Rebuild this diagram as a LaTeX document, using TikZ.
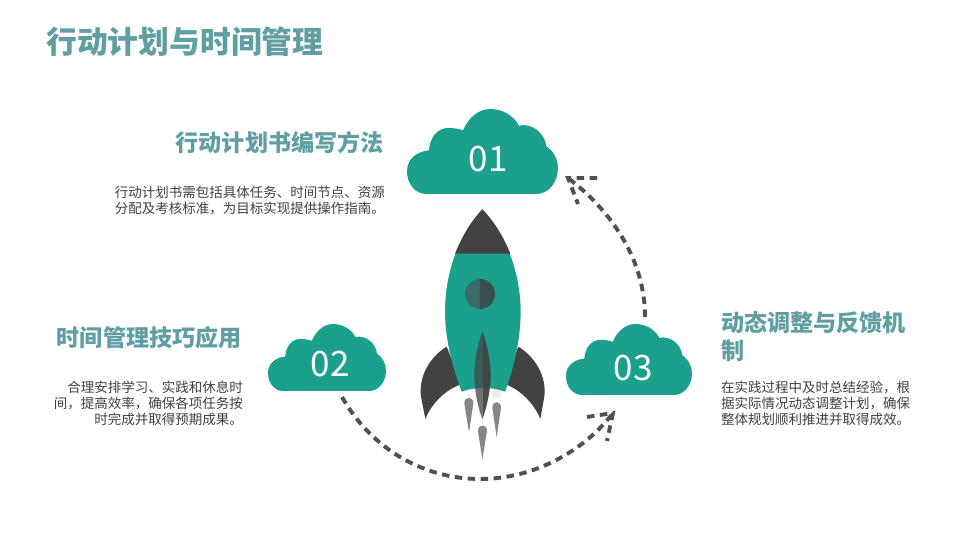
\documentclass[tikz,border=0pt]{standalone}
\usepackage{fontspec}
\setmainfont{Noto Sans CJK SC}
\newcommand{\fc}{\char"FF0C\relax}
\definecolor{teal1}{HTML}{1BA08E}
\definecolor{head1}{HTML}{5F9EA3}
\definecolor{body1}{HTML}{404040}
\definecolor{dark1}{HTML}{424242}
\definecolor{dash1}{HTML}{505050}
\definecolor{winl}{HTML}{3A6B66}
\definecolor{winr}{HTML}{35504F}
\tikzset{
 x=1pt,y=-1pt,
 titletext/.style={font=\fontsize{30.8}{36}\selectfont\bfseries,text=head1,inner sep=0pt},
 headtext/.style={font=\fontsize{23.1}{28}\selectfont\bfseries,text=head1,inner sep=0pt},
 bodytext/.style={font=\fontsize{13.5}{16}\selectfont,text=body1,inner sep=0pt},
 numtext/.style={font=\fontsize{35}{40}\selectfont,text=white,inner sep=0pt},
 arcline/.style={draw=dash1,line width=3.9pt,dash pattern=on 7.5pt off 5.5pt},
 exhaust/.style={fill=gray!95},
}
\newcommand{\cloudshape}[4]{%
 \fill[teal1,shift={(#1,#2)},x=#3pt,y=-#4pt]
 (58,255) -- (388,255) .. controls (425,255) and (453,220) .. (453,177)
 .. controls (453,150) and (438,125) .. (418,112)
 .. controls (415,75) and (375,40) .. (336,50)
 .. controls (320,20) and (287,0) .. (250,0)
 .. controls (215,0) and (185,25) .. (168,64)
 .. controls (155,59) and (140,57) .. (123,57)
 .. controls (90,57) and (68,88) .. (66,124)
 .. controls (28,128) and (0,150) .. (0,187)
 .. controls (0,225) and (25,255) .. (58,255) -- cycle;}
\begin{document}
\begin{tikzpicture}
\useasboundingbox (0,0) rectangle (960,540);
\fill[white] (0,0) rectangle (960,540);
% clouds
\cloudshape{407}{109}{0.3333}{0.3333}
\cloudshape{268}{324}{0.2605}{0.2627}
\cloudshape{566}{324}{0.2781}{0.2784}
\node[numtext] (n1) at (488,159) {01};
\node[numtext] (n2) at (330,364) {02};
\node[numtext] (n3) at (633,368) {03};
% rocket
\begin{scope}[shift={(400,200)},x=0.3333pt,y=-0.3333pt]
 \fill[dark1] (140,440) .. controls (90,470) and (55,530) .. (63,590) -- (76,657) .. controls (95,610) and (135,570) .. (185,552) -- cycle;
 \fill[dark1] (355,440) .. controls (405,470) and (441,530) .. (433,590) -- (421,657) .. controls (402,610) and (362,570) .. (315,552) -- cycle;
 \fill[black!7] (275,568) rectangle (302,590);
 \fill[teal1] (247,28) .. controls (170,110) and (135,230) .. (135,335)
   .. controls (135,420) and (160,510) .. (185,575)
   .. controls (225,560) and (275,560) .. (315,575)
   .. controls (340,510) and (362,420) .. (362,335)
   .. controls (362,230) and (325,110) .. (247,28) -- cycle;
 \fill[dark1] (247,28) .. controls (215,62) and (187,108) .. (165,161) -- (331,161) .. controls (310,108) and (280,62) .. (247,28) -- cycle;
 \fill[winl] (240,237) arc[start angle=-90,end angle=-270,radius=45] -- cycle;
 \fill[winr] (240,237) arc[start angle=-90,end angle=90,radius=45] -- cycle;
 \fill[dark1,opacity=.75] (247,395) .. controls (230,440) and (223,490) .. (223,525) .. controls (223,575) and (235,625) .. (247,658) -- cycle;
 \fill[dark1,opacity=.95] (247,395) .. controls (264,440) and (272,490) .. (272,525) .. controls (272,575) and (259,625) .. (247,658) -- cycle;
 \fill[exhaust] (193,610) .. controls (193,588) and (220,588) .. (220,610) -- (207,697) -- cycle;
 \fill[exhaust] (277,623) .. controls (277,601) and (303,601) .. (303,623) -- (290,712) -- cycle;
 \fill[exhaust] (234,693) .. controls (234,671) and (261,671) .. (261,693) -- (247,778) -- cycle;
\end{scope}
% connectors
\coordinate (a1) at (342,397);
\coordinate (a2) at (480,479);
\coordinate (a3) at (613,413);
\coordinate (a3l) at (587,417);
\coordinate (a3r) at (607,441);
\coordinate (b1) at (645,317);
\coordinate (b2) at (568,178);
\coordinate (b2l) at (597,178);
\coordinate (b2r) at (578,204);
\draw[arcline] (a1) .. controls (372,450) and (425,479) .. (a2) .. controls (535,479) and (585,450) .. (a3);
\draw[arcline] (a3l) -- (a3) -- (a3r);
\draw[arcline] (b1) .. controls (645,262) and (614,213) .. (b2);
\draw[arcline] (b2l) -- (b2) -- (b2r);
% text
\node[titletext,anchor=west] (t0) at (46,42) {行动计划与时间管理};
\node[headtext,anchor=east] (h1) at (383.8,143) {行动计划书编写方法};
\node[bodytext,anchor=north east,align=right] (b1t) at (385,185.5) {行动计划书需包括具体任务、时间节点、资源\\分配及考核标准\fc 为目标实现提供操作指南。};
\node[headtext,anchor=east] (h2) at (241.8,338) {时间管理技巧应用};
\node[bodytext,anchor=north east,align=right] (b2t) at (243,381) {合理安排学习、实践和休息时\\间\fc 提高效率\fc 确保各项任务按\\时完成并取得预期成果。};
\node[headtext,anchor=north west,align=left] (h3) at (721,311.5) {动态调整与反馈机\\制};
\node[bodytext,anchor=north west,align=left] (b3t) at (721,381) {在实践过程中及时总结经验\fc 根\\据实际情况动态调整计划\fc 确保\\整体规划顺利推进并取得成效。};
\end{tikzpicture}
\end{document}
